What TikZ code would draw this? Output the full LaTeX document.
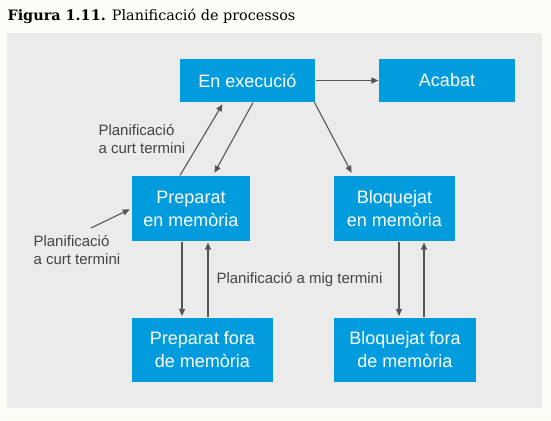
\documentclass[tikz,border=0pt]{standalone}
\usepackage{fontspec}
\setmainfont{Liberation Sans}
\newfontfamily\titlefont{DejaVu Serif}
\usetikzlibrary{arrows.meta}
\definecolor{paper}{RGB}{253,253,247}
\definecolor{panel}{RGB}{235,235,235}
\definecolor{boxblue}{RGB}{0,156,222}
\definecolor{arrowgray}{RGB}{85,85,85}
\begin{document}
\begin{tikzpicture}[x=1pt,y=-1pt,
  state/.style={rectangle, fill=boxblue, text=white, align=center,
    inner sep=0pt, font=\fontsize{18}{23}\selectfont},
  lbl/.style={text=arrowgray!80!black, align=left, inner sep=0pt,
    font=\fontsize{15}{18}\selectfont},
  >={Triangle[length=7pt,width=6pt]},
  every path/.style={line width=1.1pt}]
\fill[paper] (0,0) rectangle (551,420);
\fill[panel] (7,33) rectangle (542,408);
\node at (7,16) (title) [anchor=west, inner sep=0pt, font=\titlefont\fontsize{14.4}{16}\selectfont]
  {\textbf{Figura 1.11.} Planificació de processos};
\node at (247.5,80.5) (exec) [state, minimum width=135, minimum height=43] {En execució};
\node at (447,80.5) (acabat) [state, minimum width=136, minimum height=43] {Acabat};
\node at (191,208.5) (prepmem) [state, minimum width=118, minimum height=65] {Preparat\\en memòria};
\node at (394.5,208.5) (bloqmem) [state, minimum width=121, minimum height=65] {Bloquejat\\en memòria};
\node at (202.5,349.5) (prepfora) [state, minimum width=141, minimum height=64] {Preparat fora\\de memòria};
\node at (405,349.5) (bloqfora) [state, minimum width=142, minimum height=64] {Bloquejat fora\\de memòria};
\coordinate (tail) at (91,228);
\draw [->, arrowgray] (exec.east) -- (acabat.west);
\draw [->, arrowgray, shorten >=2pt] ([xshift=-11pt]prepmem.north) -- ([xshift=-24pt]exec.south)
  node[pos=0.5, left, xshift=-16pt, lbl]{Planificació\\a curt termini};
\draw [->, arrowgray, shorten >=3pt] ([xshift=5.5pt]exec.south) -- ([xshift=22pt]prepmem.north);
\draw [->, arrowgray, shorten >=3pt] ([xshift=-1pt]exec.south east) -- ([xshift=-41.5pt]bloqmem.north);
\draw [->, arrowgray, shorten >=2pt] (tail) -- (prepmem.west);
\node at (33,250.5) (curt) [anchor=west, lbl] {Planificació\\a curt termini};
\draw [->, arrowgray, shorten >=1pt] ([xshift=-9pt]prepmem.south) -- ([xshift=-20.5pt]prepfora.north);
\draw [->, arrowgray, shorten >=1pt] ([xshift=5.5pt]prepfora.north) -- ([xshift=17pt]prepmem.south)
  node[pos=0.5, right, xshift=8pt, lbl]{Planificació a mig termini};
\draw [->, arrowgray, shorten >=1pt] ([xshift=4.5pt]bloqmem.south) -- ([xshift=-6pt]bloqfora.north);
\draw [->, arrowgray, shorten >=1pt] ([xshift=19pt]bloqfora.north) -- ([xshift=29.5pt]bloqmem.south);
\end{tikzpicture}
\end{document}
